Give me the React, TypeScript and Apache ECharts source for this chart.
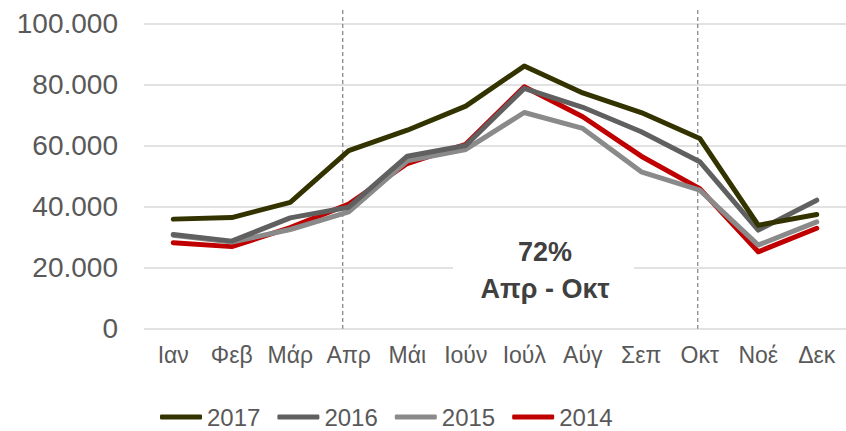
import React, { useEffect, useRef } from "react";
import * as echarts from "echarts";

const months = ["Ιαν", "Φεβ", "Μάρ", "Απρ", "Μάι", "Ιούν", "Ιούλ", "Αύγ", "Σεπ", "Οκτ", "Νοέ", "Δεκ"];
const s2017 = [35900, 36400, 41400, 58300, 65000, 72900, 86000, 77200, 70800, 62300, 33900, 37400];
const s2016 = [30900, 28700, 36300, 39800, 56500, 60000, 78700, 72500, 64500, 54700, 32300, 42100];
const s2015 = [30600, 28400, 32500, 38300, 55000, 58700, 70800, 65600, 51400, 45400, 27400, 35000];
const s2014 = [28200, 26900, 33100, 40800, 54100, 60400, 79200, 69400, 56500, 45900, 25200, 32900];
const seriesNames = ["2017", "2016", "2015", "2014"];
const seriesColors = ["#333300", "#606060", "#8a8a8a", "#c00000"];
const yTicks = [0, 20000, 40000, 60000, 80000, 100000];
const noteLines = ["72%", "Απρ - Οκτ"];
const markedMonths = ["Απρ", "Οκτ"];

const FONT = "Arial, 'Liberation Sans', sans-serif";

export default function App() {
  const ref = useRef<HTMLDivElement>(null);
  useEffect(() => {
    if (!ref.current) return;
    const chart = echarts.init(ref.current, undefined, { renderer: "svg" });
    const data = [s2017, s2016, s2015, s2014];
    chart.setOption({
      animation: false,
      textStyle: { fontFamily: FONT },
      grid: { left: 144, top: 23.3, width: 710, height: 305.5, containLabel: false },
      xAxis: {
        type: "category",
        data: months,
        boundaryGap: true,
        axisLine: { show: false },
        axisTick: { show: false },
        axisLabel: { interval: 0, fontSize: 23, color: "#595959", margin: 15, fontFamily: FONT },
      },
      yAxis: {
        type: "value",
        min: yTicks[0],
        max: yTicks[yTicks.length - 1],
        interval: 20000,
        axisLine: { show: false },
        axisTick: { show: false },
        splitLine: { lineStyle: { color: "#d9d9d9", width: 1.5 } },
        axisLabel: {
          fontSize: 28,
          color: "#595959",
          margin: 26,
          fontFamily: FONT,
          formatter: (v: number) => (v === 0 ? "0" : (v / 1000).toFixed(0) + ".000"),
        },
      },
      legend: {
        left: 160,
        top: 405,
        padding: 0,
        itemGap: 17,
        itemWidth: 42,
        itemHeight: 5,
        icon: "roundRect",
        textStyle: { fontSize: 24, color: "#595959", fontFamily: FONT },
        data: seriesNames,
      },
      series: seriesNames.map((name, i) => ({
        name,
        type: "line",
        data: data[i],
        symbol: "none",
        z: 10 - i,
        lineStyle: { color: seriesColors[i], width: 5, cap: "round", join: "round" },
        itemStyle: { color: seriesColors[i] },
      })),
    });

    const x0 = chart.convertToPixel({ xAxisIndex: 0 }, markedMonths[0]) as number;
    const x1 = chart.convertToPixel({ xAxisIndex: 0 }, markedMonths[1]) as number;
    const yBottom = chart.convertToPixel({ yAxisIndex: 0 }, 0) as number;
    const yBoxTop = chart.convertToPixel({ yAxisIndex: 0 }, 31000) as number;
    const yBoxBot = chart.convertToPixel({ yAxisIndex: 0 }, 5000) as number;
    const cx = 545;
    chart.setOption({
      graphic: [
        ...[x0 - 6, x1 - 2].map((x) => ({
          type: "line",
          z: 5,
          shape: { x1: x, y1: 10, x2: x, y2: yBottom },
          style: { stroke: "#808080", lineWidth: 1.2, lineDash: [4, 3] },
        })),
        {
          type: "rect",
          z: 6,
          shape: { x: 453, y: yBoxTop, width: 181, height: yBoxBot - yBoxTop },
          style: { fill: "#ffffff" },
        },
        {
          type: "text",
          z: 7,
          x: cx,
          y: 252,
          style: { text: noteLines[0], fontSize: 27, fontWeight: "bold", fill: "#404040", align: "center", verticalAlign: "middle", fontFamily: FONT },
        },
        {
          type: "text",
          z: 7,
          x: cx,
          y: 289,
          style: { text: noteLines[1], fontSize: 27, fontWeight: "bold", fill: "#404040", align: "center", verticalAlign: "middle", fontFamily: FONT },
        },
      ],
    });
    return () => chart.dispose();
  }, []);
  return <div ref={ref} style={{ position: "absolute", left: 0, top: 0, width: 846, height: 431 }} />;
}
